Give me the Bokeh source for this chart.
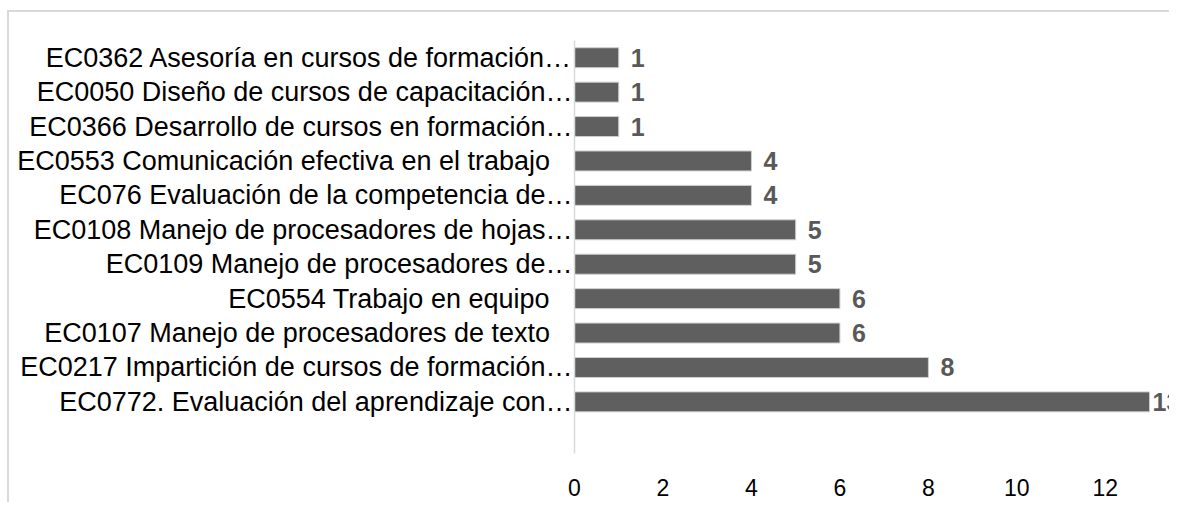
from bokeh.plotting import figure
from bokeh.models import Range1d, FixedTicker, ColumnDataSource
from bokeh.core.properties import value
from bokeh.embed import file_html
from bokeh.resources import INLINE
import numpy as np

# Data (top to bottom as shown)
categories = [
    "EC0362 Asesoría en cursos de formación…",
    "EC0050 Diseño de cursos de capacitación…",
    "EC0366 Desarrollo de cursos en formación…",
    "EC0553 Comunicación efectiva en el trabajo",
    "EC076 Evaluación de la competencia de…",
    "EC0108 Manejo de procesadores de hojas…",
    "EC0109 Manejo de procesadores de…",
    "EC0554 Trabajo en equipo",
    "EC0107 Manejo de procesadores de texto",
    "EC0217 Impartición de cursos de formación…",
    "EC0772. Evaluación del aprendizaje con…",
]
counts = [1, 1, 1, 4, 4, 5, 5, 6, 6, 8, 13]
x_ticks = [0, 2, 4, 6, 8, 10, 12]

n = len(categories)
ypos = list(range(n - 1, -1, -1))  # top category gets highest position
vals = np.array(counts)
offsets = np.where(vals == vals.max(), 3, 12).tolist()
labels = [str(v) for v in counts]
# full (non-truncated) labels carry trailing spacing like the original
shown = [c if c.endswith("…") else c + "\u00a0\u00a0\u00a0" for c in categories]

src = ColumnDataSource(dict(y=ypos, v=counts, lab=labels, off=offsets))

W, H = 1169, 502
p = figure(width=W, height=H, output_backend="svg", toolbar_location=None,
           x_range=Range1d(0, 13.45), y_range=Range1d(-1.5, n - 0.5))
p.min_border_left = 574
p.min_border_right = 0
p.min_border_top = 40
p.min_border_bottom = 49
p.outline_line_color = None
p.background_fill_color = "white"
p.border_fill_color = None
p.styles = {
    "background-color": "white",
    "background-image": "linear-gradient(#d9d9d9,#d9d9d9), linear-gradient(#d9d9d9,#d9d9d9)",
    "background-position": "8px 10px, 7px 10px",
    "background-size": "100% 2px, 2px 100%",
    "background-repeat": "no-repeat",
}

p.hbar(y="y", right="v", left=0, height=0.58, source=src,
       fill_color="#5f5f5f", line_color="#cfcfcf", line_width=1)
p.text(x="v", y="y", text="lab", x_offset="off", source=src,
       text_align="left", text_baseline="middle",
       text_font=value("Liberation Sans"), text_font_style="bold",
       text_font_size="25px", text_color="#595959")

p.xgrid.visible = False
p.ygrid.visible = False

xa = p.xaxis[0]
xa.ticker = FixedTicker(ticks=x_ticks)
xa.axis_line_color = None
xa.major_tick_line_color = None
xa.minor_tick_line_color = None
xa.major_label_standoff = 19
xa.major_label_text_font = "Liberation Sans"
xa.major_label_text_font_size = "23px"
xa.major_label_text_color = "#000000"

ya = p.yaxis[0]
ya.ticker = FixedTicker(ticks=ypos)
ya.major_label_overrides = {y: c for y, c in zip(ypos, shown)}
ya.axis_line_color = "#d9d9d9"
ya.axis_line_width = 1.5
ya.major_tick_line_color = None
ya.minor_tick_line_color = None
ya.major_label_standoff = -4
ya.major_label_text_font = "Liberation Sans"
ya.major_label_text_font_size = "27px"
ya.major_label_text_color = "#000000"

open("out.html", "w").write(file_html(p, INLINE))
